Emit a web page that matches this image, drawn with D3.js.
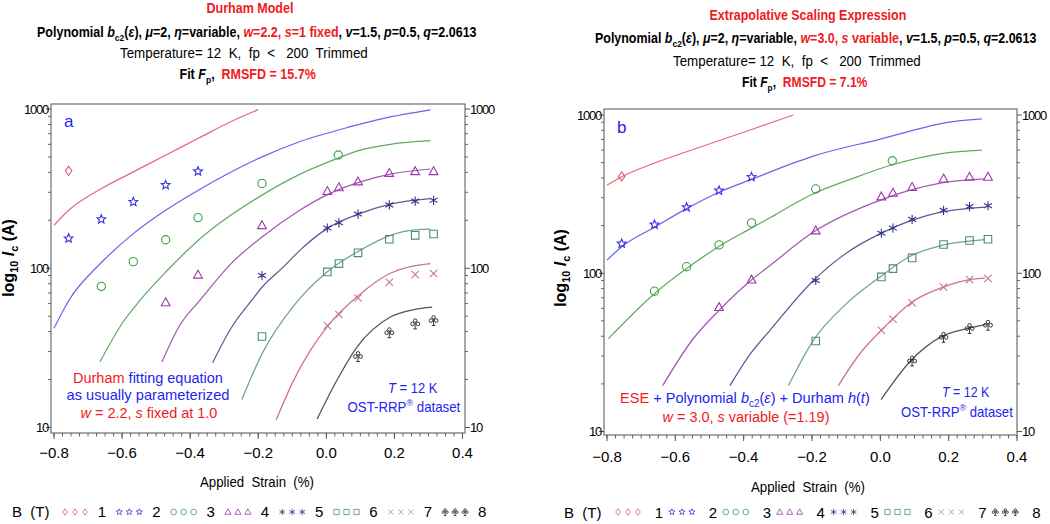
<!DOCTYPE html>
<html><head><meta charset="utf-8">
<script src="https://cdn.jsdelivr.net/npm/d3@7"></script>
<style>html,body{margin:0;padding:0;background:#fff;} svg{display:block;} text{white-space:pre;}</style>
</head><body><svg id="chart" width="1050" height="524"></svg>
<script>
// ---------------- DATA ----------------
const fieldLabels = ["1","2","3","4","5","6","7","8"];
const markerTypes = ["diamond","star","circle","triangle","asterisk","square","cross","club"];
const xTicks = [-0.8,-0.6,-0.4,-0.2,0.0,0.2,0.4];
const yTicks = [10,100,1000];

// measured Ic (A) vs applied strain (%) for B = 1..8 T
const measB1 = [[-0.757,409]];
const measB2 = [[-0.757,154],[-0.661,203],[-0.567,261],[-0.472,333],[-0.377,406]];
const measB3 = [[-0.661,77],[-0.567,110],[-0.472,151],[-0.377,208],[-0.189,341],[0.035,514]];
const measB4 = [[-0.472,61],[-0.377,91],[-0.189,186],[0.003,305],[0.037,322],[0.093,350],[0.185,396],[0.261,406],[0.315,406]];
const measB5 = [[-0.189,90],[0.003,179],[0.037,193],[0.093,219],[0.185,250],[0.261,264],[0.315,267]];
const measB6 = [[-0.189,37.3],[0.003,94.8],[0.037,107],[0.093,125],[0.185,152],[0.261,161],[0.315,164]];
const measB7 = [[0.003,43.6],[0.037,51.2],[0.093,65],[0.185,81.7],[0.261,91.2],[0.315,92.7]];
const measB8 = [[0.093,28],[0.185,39.5],[0.261,44.9],[0.315,47.1]];

// Durham model fit curves (panel a)
const durhamB1 = [[-0.8,186],[-0.756,232],[-0.66,317],[-0.567,403],[-0.471,514],[-0.376,655],[-0.27,853],[-0.2,990]];
const durhamB2 = [[-0.8,42],[-0.756,63],[-0.66,109],[-0.567,165],[-0.471,232],[-0.376,309],[-0.189,500],[-0.077,625],[0.071,774],[0.169,873],[0.306,986]];
const durhamB3 = [[-0.665,25.8],[-0.6,45],[-0.547,63],[-0.471,95],[-0.376,150],[-0.189,288],[-0.077,390],[0.003,462],[0.1,552],[0.188,600],[0.306,632]];
const durhamB4 = [[-0.483,25.8],[-0.43,44],[-0.371,63],[-0.28,107],[-0.189,157],[-0.077,232],[0.003,290],[0.1,349],[0.188,390],[0.306,420]];
const durhamB5 = [[-0.334,25.5],[-0.28,42],[-0.219,63],[-0.189,76],[-0.126,102],[-0.077,130],[0.003,178],[0.1,221],[0.188,253],[0.306,274]];
const durhamB6 = [[-0.248,15],[-0.189,29],[-0.096,58],[0.003,95],[0.1,130],[0.188,161],[0.267,175],[0.306,176]];
const durhamB7 = [[-0.147,11.2],[-0.1,19],[-0.047,30.5],[0.003,43.2],[0.1,69],[0.188,93],[0.306,107]];
const durhamB8 = [[-0.027,11.3],[0.031,19.8],[0.09,32],[0.188,49.4],[0.257,55],[0.311,57]];

// Extrapolative scaling expression fit curves (panel b)
const eseB1 = [[-0.8,360],[-0.757,407],[-0.664,494],[-0.567,586],[-0.381,804],[-0.255,1000]];
const eseB2 = [[-0.8,121],[-0.757,147],[-0.66,196],[-0.567,256],[-0.472,325],[-0.377,392],[-0.245,505],[-0.196,550],[0.0,705],[0.087,790],[0.18,885],[0.297,944]];
const eseB3 = [[-0.796,38.6],[-0.662,74],[-0.567,107],[-0.474,147],[-0.379,192],[-0.323,224],[-0.245,280],[-0.196,318],[-0.08,398],[0.033,483],[0.184,573],[0.297,600]];
const eseB4 = [[-0.637,19.5],[-0.55,38],[-0.472,58.3],[-0.379,90],[-0.323,112],[-0.196,182],[0.0,290],[0.087,335],[0.18,373],[0.306,395]];
const eseB5 = [[-0.44,19.5],[-0.38,31],[-0.323,43.6],[-0.196,90],[-0.1,134],[0.0,178],[0.087,214],[0.18,244],[0.306,262]];
const eseB6 = [[-0.269,19.5],[-0.196,37.7],[-0.1,64],[0.0,95],[0.087,128],[0.18,150],[0.306,163]];
const eseB7 = [[-0.123,19.5],[-0.06,31],[0.003,43.6],[0.093,65.8],[0.185,81.8],[0.261,91],[0.306,93]];
const eseB8 = [[0.002,15.9],[0.087,27.7],[0.18,39.9],[0.254,44.7],[0.309,47.3]];

const measured = [measB1,measB2,measB3,measB4,measB5,measB6,measB7,measB8];
const fitsA = [durhamB1,durhamB2,durhamB3,durhamB4,durhamB5,durhamB6,durhamB7,durhamB8];
const fitsB = [eseB1,eseB2,eseB3,eseB4,eseB5,eseB6,eseB7,eseB8];

// ---------------- STYLE ----------------
const FONT = "'Liberation Sans', Arial, Helvetica, sans-serif";
const lineColors = ["#e8687a","#6e62ee","#62aa62","#a457b2","#5c5c98","#70a48e","#cc7480","#555555"];
const markColors = ["#e05a78","#3a34e0","#3f9f46","#9a3aa8","#34348a","#4d8c70","#c47890","#222222"];
const RED = "#f01a22", BLUE = "#2424f0";

const svg = d3.select("#chart");

function markerPath(type, s) {
  const f = v => v.toFixed(2);
  switch (type) {
    case "diamond": return `M0,${f(-s)}L${f(0.72*s)},0L0,${f(s)}L${f(-0.72*s)},0Z`;
    case "star": {
      let p = "";
      for (let i = 0; i < 10; i++) {
        const a = -Math.PI/2 + i*Math.PI/5, r = i % 2 ? s*0.45 : s;
        p += (i ? "L" : "M") + f(r*Math.cos(a)) + "," + f(r*Math.sin(a));
      }
      return p + "Z";
    }
    case "circle": { const r = 0.9*s; return `M${f(r)},0A${f(r)},${f(r)} 0 1 0 ${f(-r)},0A${f(r)},${f(r)} 0 1 0 ${f(r)},0Z`; }
    case "triangle": return `M0,${f(-s)}L${f(0.95*s)},${f(0.72*s)}L${f(-0.95*s)},${f(0.72*s)}Z`;
    case "asterisk": {
      const c = Math.cos(Math.PI/6)*s, d = 0.5*s;
      return `M0,${f(-s)}L0,${f(s)}M${f(-c)},${f(-d)}L${f(c)},${f(d)}M${f(-c)},${f(d)}L${f(c)},${f(-d)}`;
    }
    case "square": { const h = 0.82*s; return `M${f(-h)},${f(-h)}H${f(h)}V${f(h)}H${f(-h)}Z`; }
    case "cross": { const h = 0.8*s; return `M${f(-h)},${f(-h)}L${f(h)},${f(h)}M${f(-h)},${f(h)}L${f(h)},${f(-h)}`; }
    case "club": {
      const r = 0.33*s;
      const circ = (cx, cy) => `M${f(cx+r)},${f(cy)}A${f(r)},${f(r)} 0 1 0 ${f(cx-r)},${f(cy)}A${f(r)},${f(r)} 0 1 0 ${f(cx+r)},${f(cy)}`;
      return circ(0,-0.58*s) + circ(-0.52*s,0.05*s) + circ(0.52*s,0.05*s) +
        `M0,${f(-0.25*s)}L0,${f(s)}M${f(-0.35*s)},${f(s)}L${f(0.35*s)},${f(s)}`;
    }
  }
}

// rich text helper
function rich(parent, segs, o) {
  const t = parent.append("text").attr("font-family", FONT).attr("font-size", o.size)
    .attr("font-weight", o.bold ? "bold" : "normal").attr("fill", o.fill || "#000").attr("x", 0).attr("y", 0);
  let shift = 0;
  segs.forEach(s => {
    const ts = t.append("tspan").text(s.t);
    const target = s.sub ? o.size*0.25 : s.sup ? -o.size*0.4 : 0;
    if (target !== shift) { ts.attr("dy", target - shift); shift = target; }
    if (s.sub || s.sup) ts.attr("font-size", o.size*0.68);
    if (s.i) ts.attr("font-style", "italic");
    if (s.c) ts.attr("fill", s.c);
  });
  const w = t.node().getBBox().width;
  const sx = o.width ? o.width / w : 1;
  if (o.rotate) {
    t.attr("transform", `translate(${o.x},${o.y + w*sx/2}) rotate(-90) scale(${sx},1)`);
  } else {
    const x0 = o.anchor === "start" ? o.x : o.anchor === "end" ? o.x - w*sx : o.x - w*sx/2;
    t.attr("transform", `translate(${x0},${o.y}) scale(${sx},1)`);
  }
  return t;
}

// ---------------- PANELS ----------------
const panels = [
  { fits: fitsA, xr: [54, 462.5], yr: [427.5, 109], frame: [51, 104, 465, 433], letter: "a",
    letterPos: [64, 127], xLabY: 458, yLabX: 14, yLabY: 258, xTitle: [257, 487],
    titles: { t1: [250, 13, 87], t2: [257, 37, 440], t3: [244, 58, 248], t4: [248, 79, 137] },
    w: "=2.2, ", s: "=1 fixed", rms: "RMSFD = 15.7%", title1: "Durham Model" },
  { fits: fitsB, xr: [607, 1017], yr: [431.5, 115], frame: [604, 109, 1017, 435], letter: "b",
    letterPos: [617, 133], xLabY: 462, yLabX: 566, yLabY: 268, xTitle: [808, 492],
    titles: { t1: [808, 20, 197], t2: [816, 43, 442], t3: [797, 66, 248], t4: [805, 87, 126] },
    w: "=3.0, ", s: " variable", rms: "RMSFD = 7.1%", title1: "Extrapolative Scaling Expression" }
];

panels.forEach((P, pi) => {
  const g = svg.append("g");
  const x = d3.scaleLinear().domain([-0.8, 0.4]).range(P.xr);
  const y = d3.scaleLog().domain([10, 1000]).range(P.yr);
  const [fl, ft, fr, fb] = P.frame;

  // titles
  rich(g, [{t: P.title1}], {size: 14, bold: true, fill: RED, x: P.titles.t1[0], y: P.titles.t1[1], width: P.titles.t1[2]});
  rich(g, [{t:"Polynomial "},{t:"b",i:1},{t:"c2",sub:1},{t:"("},{t:"ε",i:1},{t:"), "},{t:"μ",i:1},{t:"=2, "},
           {t:"η",i:1},{t:"=variable, "},{t:"w",i:1,c:RED},{t:P.w,c:RED},{t:"s",i:1,c:RED},{t:P.s,c:RED},
           {t:", "},{t:"v",i:1},{t:"=1.5, "},{t:"p",i:1},{t:"=0.5, "},{t:"q",i:1},{t:"=2.0613"}],
       {size: 14, bold: true, x: P.titles.t2[0], y: P.titles.t2[1], width: P.titles.t2[2]});
  rich(g, [{t:"Temperature= 12  K,  fp  <   200  Trimmed"}],
       {size: 15, x: P.titles.t3[0], y: P.titles.t3[1], width: P.titles.t3[2]});
  rich(g, [{t:"Fit "},{t:"F",i:1},{t:"p",sub:1},{t:",  "},{t:P.rms,c:RED}],
       {size: 14, bold: true, x: P.titles.t4[0], y: P.titles.t4[1], width: P.titles.t4[2]});

  // frame
  g.append("rect").attr("x", fl).attr("y", ft).attr("width", fr - fl).attr("height", fb - ft)
    .attr("fill", "none").attr("stroke", "#7a7a7a").attr("stroke-width", 1.3);

  // y ticks (log, both sides)
  const tickCol = "#555";
  const yMinor = [];
  [10, 100].forEach(d => { for (let k = 2; k <= 9; k++) yMinor.push(d*k); });
  yTicks.forEach(v => {
    g.append("line").attr("x1", fl).attr("x2", fl - 5).attr("y1", y(v)).attr("y2", y(v)).attr("stroke", tickCol);
    g.append("line").attr("x1", fr).attr("x2", fr + 5).attr("y1", y(v)).attr("y2", y(v)).attr("stroke", tickCol);
  });
  yMinor.forEach(v => {
    g.append("line").attr("x1", fl).attr("x2", fl - 3).attr("y1", y(v)).attr("y2", y(v)).attr("stroke", tickCol).attr("stroke-width", 0.9);
    g.append("line").attr("x1", fr).attr("x2", fr + 3).attr("y1", y(v)).attr("y2", y(v)).attr("stroke", tickCol).attr("stroke-width", 0.9);
  });
  yTicks.forEach(v => {
    g.append("text").attr("x", fl - 3).attr("y", y(v) + 4.5).attr("text-anchor", "end")
      .attr("font-family", FONT).attr("font-size", 13).attr("letter-spacing", -1.2).text(d3.format("d")(v));
    g.append("text").attr("x", fr + 5).attr("y", y(v) + 4.5).attr("text-anchor", "start")
      .attr("font-family", FONT).attr("font-size", 13).attr("letter-spacing", -1.2).text(d3.format("d")(v));
  });

  // x ticks
  const xMinor = d3.range(0, 49).map(i => -0.8 + i*0.025);
  xMinor.forEach(v => {
    g.append("line").attr("x1", x(v)).attr("x2", x(v)).attr("y1", fb).attr("y2", fb + 3.5).attr("stroke", tickCol).attr("stroke-width", 0.9);
  });
  xTicks.forEach(v => {
    g.append("line").attr("x1", x(v)).attr("x2", x(v)).attr("y1", fb).attr("y2", fb + 6).attr("stroke", tickCol);
    g.append("text").attr("x", x(v)).attr("y", P.xLabY).attr("text-anchor", "middle")
      .attr("font-family", FONT).attr("font-size", 15).text(d3.format(".1f")(v));
  });

  // axis titles
  rich(g, [{t:"Applied  Strain  (%)"}], {size: 14, x: P.xTitle[0], y: P.xTitle[1], width: 114});
  rich(g, [{t:"log"},{t:"10",sub:1},{t:" "},{t:"I",i:1},{t:"c",sub:1},{t:" (A)"}],
       {size: 16, bold: true, x: P.yLabX, y: P.yLabY, rotate: true});

  // panel letter
  g.append("text").attr("x", P.letterPos[0]).attr("y", P.letterPos[1]).attr("font-family", FONT)
    .attr("font-size", 17).attr("fill", BLUE).text(P.letter);

  // clip
  const cid = "clip" + pi;
  svg.append("clipPath").attr("id", cid).append("rect").attr("x", fl).attr("y", ft).attr("width", fr - fl).attr("height", fb - ft);

  // fit curves
  const line = d3.line().x(d => x(d[0])).y(d => y(d[1])).curve(d3.curveMonotoneX);
  const cg = g.append("g").attr("clip-path", `url(#${cid})`);
  P.fits.forEach((pts, i) => {
    cg.append("path").attr("d", line(pts)).attr("fill", "none").attr("stroke", lineColors[i]).attr("stroke-width", 1.25);
  });

  // measured markers
  measured.forEach((pts, i) => {
    cg.selectAll(null).data(pts).enter().append("path")
      .attr("transform", d => `translate(${x(d[0])},${y(d[1])})`)
      .attr("d", markerPath(markerTypes[i], i === 7 ? 5.2 : 4.6))
      .attr("fill", "none").attr("stroke", markColors[i]).attr("stroke-width", i === 7 ? 0.9 : 1.1);
  });

  // legend
  const lg = g.append("g");
  const L = pi === 0 ? {bx: 12, m0: 65, step: 54.3, lab: 37, y: 512, base: 517}
                     : {bx: 564, m0: 618, step: 53.9, lab: 41, y: 512, base: 518};
  lg.append("text").attr("x", L.bx).attr("y", L.base).attr("font-family", FONT).attr("font-size", 15).text("B  (T)");
  fieldLabels.forEach((lab, i) => {
    const sx = L.m0 + i*L.step;
    [0, 10, 20].forEach(dx => {
      lg.append("path").attr("transform", `translate(${sx + dx},${L.y})`)
        .attr("d", markerPath(markerTypes[i], i === 7 ? 3.6 : 3.2)).attr("fill", "none")
        .attr("stroke", markColors[i]).attr("stroke-width", 0.8);
    });
    lg.append("text").attr("x", sx + L.lab).attr("y", L.base).attr("text-anchor", "middle")
      .attr("font-family", FONT).attr("font-size", 15).text(lab);
  });
});

// annotations panel a
rich(svg, [{t:"Durham",c:RED},{t:" fitting equation",c:BLUE}], {size: 15, x: 148, y: 383, width: 150});
rich(svg, [{t:"as usually parameterized",c:BLUE}], {size: 15, x: 148, y: 400, width: 163});
rich(svg, [{t:"w",i:1},{t:" = 2.2, "},{t:"s",i:1},{t:" fixed at 1.0"}], {size: 15, fill: RED, x: 149, y: 418, width: 137});
rich(svg, [{t:"T",i:1},{t:" = 12 K"}], {size: 14, fill: BLUE, x: 413, y: 393, width: 50});
rich(svg, [{t:"OST-RRP"},{t:"®",sup:1},{t:" dataset"}], {size: 14, fill: BLUE, x: 404, y: 412, width: 113});

// annotations panel b
rich(svg, [{t:"ESE",c:RED},{t:" + Polynomial ",c:BLUE},{t:"b",i:1,c:BLUE},{t:"c2",sub:1,c:BLUE},{t:"(",c:BLUE},{t:"ε",i:1,c:BLUE},
           {t:")",c:BLUE},{t:" + Durham ",c:BLUE},{t:"h",i:1,c:BLUE},{t:"(",c:BLUE},{t:"t",i:1,c:BLUE},{t:")",c:BLUE}],
     {size: 15, x: 745, y: 403, width: 250});
rich(svg, [{t:"w",i:1},{t:" = 3.0, "},{t:"s",i:1},{t:" variable (=1.19)"}], {size: 15, fill: RED, x: 746, y: 422, width: 167});
rich(svg, [{t:"T",i:1},{t:" = 12 K"}], {size: 14, fill: BLUE, x: 966, y: 397, width: 48});
rich(svg, [{t:"OST-RRP"},{t:"®",sup:1},{t:" dataset"}], {size: 14, fill: BLUE, x: 957, y: 417, width: 112});
</script></body></html>
